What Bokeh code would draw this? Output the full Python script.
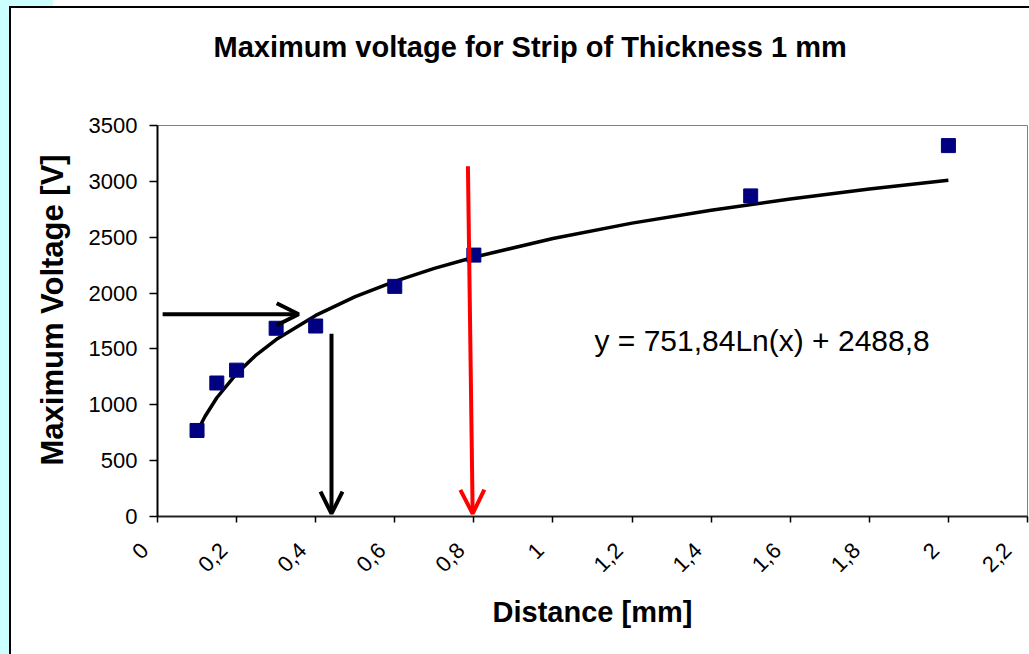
import math
from bokeh.plotting import figure
from bokeh.models import (ColumnDataSource, FixedTicker, Arrow, OpenHead, Label,
                          Range1d, Title, LinearAxis)
from bokeh.embed import file_html
from bokeh.resources import INLINE

# ---- data ----
distance_mm = [0.1, 0.15, 0.2, 0.3, 0.4, 0.6, 0.8, 1.5, 2.0]
max_voltage_v = [770, 1195, 1310, 1685, 1705, 2060, 2340, 2870, 3320]

trend_x = [0.1, 0.12, 0.15, 0.2, 0.25, 0.3, 0.4, 0.5, 0.6, 0.7, 0.8, 1.0, 1.2, 1.4, 1.6, 1.8, 2.0]
trend_y = [758, 895, 1063, 1279, 1447, 1584, 1800, 1968, 2105, 2221, 2321, 2489, 2626, 2742, 2842, 2931, 3010]

x_ticks = [0, 0.2, 0.4, 0.6, 0.8, 1.0, 1.2, 1.4, 1.6, 1.8, 2.0, 2.2]
x_tick_labels = ["0", "0,2", "0,4", "0,6", "0,8", "1", "1,2", "1,4", "1,6", "1,8", "2", "2,2"]
y_ticks = [0, 500, 1000, 1500, 2000, 2500, 3000, 3500]

title_text = "Maximum voltage for Strip of Thickness 1 mm"
x_label = "Distance [mm]"
y_label = "Maximum Voltage [V]"
equation_text = "y = 751,84Ln(x) + 2488,8"

FONT = "Liberation Sans"
PAD = "\u00a0\u00a0\u00a0"   # pushes rotated tick labels along their direction

page_bg = ("linear-gradient(#000, #000) 9px 6px / 2px 648px no-repeat, "
           "linear-gradient(#000, #000) 9px 6px / 1020px 2px no-repeat, "
           "linear-gradient(#ccffff, #ccffff) 0px 0px / 9px 654px no-repeat, "
           "linear-gradient(#ccffff, #ccffff) 0px 0px / 53px 6px no-repeat, "
           "#ffffff")

p = figure(width=1029, height=654, output_backend="svg", toolbar_location=None,
           x_range=Range1d(0, 2.2), y_range=Range1d(0, 3500),
           min_border_left=157, min_border_right=2, min_border_top=125,
           min_border_bottom=138, border_fill_color=None,
           background_fill_color="white",
           styles={"background": page_bg})

p.outline_line_color = "#808080"
p.outline_line_width = 1
p.grid.visible = False

# axes (grab the real axes before adding anything else)
xa = p.below[0]
ya = p.left[0]

xa.ticker = FixedTicker(ticks=x_ticks)
xa.major_label_overrides = {t: l + PAD for t, l in zip(x_ticks, x_tick_labels)}
xa.major_label_orientation = math.pi / 4
xa.major_label_text_font = FONT
xa.major_label_text_font_size = "22px"
xa.major_label_text_color = "black"
xa.major_label_standoff = 11
xa.major_tick_out = 6
xa.major_tick_in = 0
xa.minor_tick_out = 0
xa.minor_tick_in = 0
xa.axis_line_width = 2
xa.axis_line_color = "#222222"
xa.major_tick_line_color = "black"
xa.major_tick_line_width = 1.5
xa.axis_label = x_label
xa.axis_label_text_font = FONT
xa.axis_label_text_font_size = "29px"
xa.axis_label_text_font_style = "bold"
xa.axis_label_text_color = "black"
xa.axis_label_standoff = 7

ya.ticker = FixedTicker(ticks=y_ticks)
ya.major_label_text_font = FONT
ya.major_label_text_font_size = "22px"
ya.major_label_text_color = "black"
ya.major_label_standoff = 12
ya.major_tick_out = 8
ya.major_tick_in = 0
ya.minor_tick_out = 0
ya.minor_tick_in = 0
ya.axis_line_width = 2
ya.axis_line_color = "black"
ya.major_tick_line_color = "black"
ya.major_tick_line_width = 1.5

# invisible spacer axis between the frame and the title (its blank label gives it height)
spacer = LinearAxis(ticker=FixedTicker(ticks=[], minor_ticks=[]),
                    axis_line_color=None, major_tick_line_color=None,
                    minor_tick_line_color=None, major_tick_out=0,
                    major_tick_in=0, minor_tick_out=0, minor_tick_in=0,
                    major_label_standoff=0, major_label_text_font_size="0px",
                    axis_label="\u00a0", axis_label_text_font_size="10px",
                    axis_label_standoff=44)
p.add_layout(spacer, "above")

# title
p.title.text = title_text
p.title.text_font = FONT
p.title.text_font_size = "29px"
p.title.text_font_style = "bold"
p.title.text_color = "black"
p.title.align = "left"
p.title.offset = 56
p.title.standoff = 10

# y-axis title placed as a side title so it can sit slightly above centre
p.add_layout(Title(text=y_label, text_font=FONT, text_font_size="31px",
                   text_font_style="bold", text_color="black",
                   align="left", offset=51, standoff=32), "left")

# trend line and data points
p.line(trend_x, trend_y, line_color="black", line_width=3.5)
src = ColumnDataSource(dict(x=distance_mm, y=max_voltage_v))
p.scatter("x", "y", source=src, marker="square", size=14,
          fill_color="#000080", line_color="#000080")

# arrows
p.add_layout(Arrow(end=OpenHead(size=22, line_width=4, line_color="black"),
                   x_start=0.013, y_start=1810, x_end=0.357, y_end=1810,
                   line_width=4, line_color="black"))
p.add_layout(Arrow(end=OpenHead(size=22, line_width=4, line_color="black"),
                   x_start=0.44, y_start=1635, x_end=0.44, y_end=25,
                   line_width=4, line_color="black"))
p.add_layout(Arrow(end=OpenHead(size=24, line_width=4, line_color="red"),
                   x_start=0.785, y_start=3135, x_end=0.797, y_end=25,
                   line_width=4, line_color="red"))

# equation
p.add_layout(Label(x=1.105, y=1572, text=equation_text, text_font=FONT,
                   text_font_size="30px", text_baseline="middle",
                   text_color="black"))

open("out.html", "w").write(file_html(p, INLINE))
